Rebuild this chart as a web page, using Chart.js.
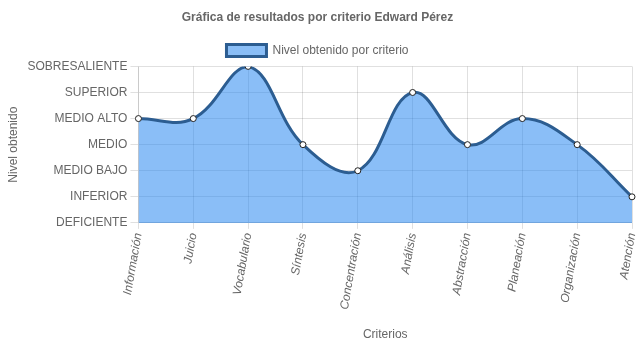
<!DOCTYPE html>
<html>
<head>
<meta charset="utf-8">
<script src="https://cdn.jsdelivr.net/npm/chart.js@4/dist/chart.umd.min.js"></script>
<style>
  html, body { margin: 0; padding: 0; background: #fff; }
  #wrap { width: 637px; height: 348px; }
</style>
</head>
<body>
<div id="wrap"><canvas id="myChart"></canvas></div>
<script>
// categorías y niveles
var criterios = ["Información", "Juicio", "Vocabulario", "Síntesis", "Concentración", "Análisis", "Abstracción", "Planeación", "Organización", "Atención"];
var niveles = ["DEFICIENTE", "INFERIOR", "MEDIO BAJO", "MEDIO", "MEDIO ALTO", "SUPERIOR", "SOBRESALIENTE"];
var valores = [4, 4, 6, 3, 2, 5, 3, 4, 3, 1];

Chart.defaults.font.family = "'Liberation Sans', Arial, sans-serif";
Chart.defaults.font.size = 12;
Chart.defaults.color = '#666';

var ctx = document.getElementById('myChart').getContext('2d');
new Chart(ctx, {
	type: 'line',
	data: {
		labels: criterios,
		datasets: [{
			label: 'Nivel obtenido por criterio',
			data: valores,
			backgroundColor: 'rgba(30, 130, 240, 0.52)',
			borderColor: '#2c5d91',
			borderWidth: 3,
			fill: true,
			tension: 0.4,
			pointRadius: 3,
			pointBorderWidth: 1,
			pointBackgroundColor: '#fff',
			pointBorderColor: '#222'
		}]
	},
	options: {
		responsive: true,
		maintainAspectRatio: false,
		animation: false,
		layout: { padding: { left: 2, right: 4, top: 0, bottom: 2 } },
		plugins: {
			title: {
				display: true,
				text: 'Gráfica de resultados por criterio Edward Pérez',
				font: { size: 12, weight: 'bold' },
				color: '#666',
				padding: { top: 10, bottom: 10 }
			},
			legend: {
				labels: { boxWidth: 40, boxHeight: 12, font: { size: 12 } }
			},
			tooltip: { enabled: false }
		},
		scales: {
			x: {
				grid: { color: 'rgba(0,0,0,0.12)', tickLength: 6 },
				ticks: { minRotation: 80, maxRotation: 80, font: { style: 'italic', size: 12 } },
				title: { display: true, text: 'Criterios', font: { size: 12 }, padding: { top: 14 } },
				afterFit: function (scale) { scale.paddingRight = 0; }
			},
			y: {
				min: 0,
				max: 6,
				grid: { color: 'rgba(0,0,0,0.12)', tickLength: 8 },
				ticks: {
					stepSize: 1,
					font: { size: 12 },
					callback: function (v) { return niveles[v]; }
				},
				title: { display: true, text: 'Nivel obtenido', font: { size: 12 } }
			}
		}
	}
});
</script>
</body>
</html>
